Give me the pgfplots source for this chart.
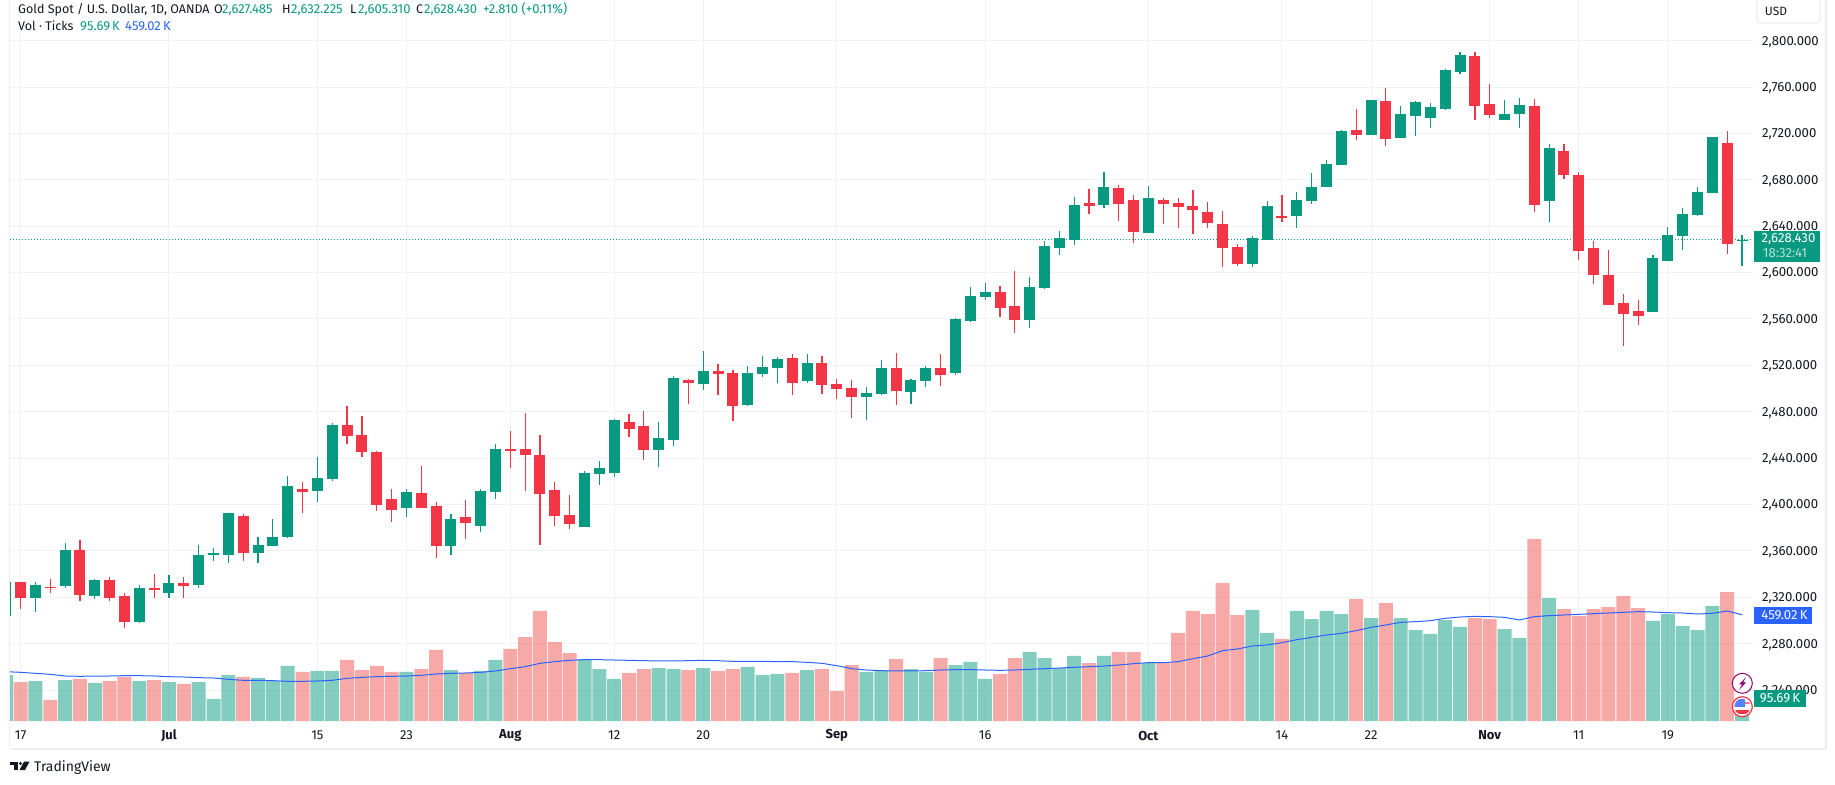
\documentclass[border=0pt]{standalone}
\usepackage{pgfplots}
\usepackage{pgfplotstable}
\usepackage{fontspec}
\pgfplotsset{compat=1.18}
\setmainfont{Fira Sans}
\definecolor{up}{HTML}{089981}
\definecolor{dn}{HTML}{F23645}
\definecolor{volup}{HTML}{089981}
\definecolor{voldn}{HTML}{EF5350}
\definecolor{ink}{HTML}{131722}
\definecolor{gridc}{HTML}{F2F2F5}
\definecolor{framec}{HTML}{EDEDF3}
\definecolor{mablue}{HTML}{2962FF}
\pgfplotstableread{
x o h l c
-1 2303.7 2332.8 2303.7 2332.8
1 2319.8 2333.6 2306.9 2330.2
3 2329.3 2366.4 2328.4 2360.4
5 2320.7 2335.4 2318.1 2334.5
8 2298.3 2331.0 2297.4 2328.4
10 2323.3 2338.8 2319.0 2331.9
12 2330.2 2365.5 2327.6 2356.9
13 2356.6 2362.9 2350.9 2357.8
14 2356.9 2393.1 2349.2 2392.3
16 2358.6 2372.4 2350.0 2364.7
17 2363.8 2387.1 2363.8 2371.6
18 2371.6 2425.0 2371.0 2415.6
20 2411.3 2440.6 2401.8 2422.5
21 2421.6 2469.9 2420.7 2469.0
26 2397.4 2413.0 2388.8 2410.4
29 2363.8 2391.4 2356.1 2387.1
31 2381.9 2413.8 2376.7 2411.3
32 2410.4 2451.8 2404.4 2448.3
38 2381.0 2428.5 2381.0 2427.6
39 2426.5 2437.7 2417.0 2431.7
40 2427.4 2473.4 2423.9 2472.5
43 2447.2 2471.1 2432.5 2457.0
44 2455.8 2510.8 2450.6 2509.0
46 2503.9 2532.3 2498.7 2515.1
49 2485.8 2519.4 2484.9 2513.4
50 2512.5 2528.0 2509.9 2518.5
51 2517.7 2527.1 2504.7 2525.4
53 2506.5 2529.7 2504.7 2522.0
57 2492.7 2501.3 2472.8 2496.1
58 2495.2 2524.6 2494.4 2517.7
60 2497.0 2508.2 2486.6 2507.3
61 2506.5 2519.4 2501.3 2517.7
63 2513.4 2560.8 2511.6 2559.9
64 2558.2 2587.5 2557.3 2579.8
65 2578.9 2591.0 2576.3 2583.2
68 2559.0 2596.2 2552.2 2587.5
69 2586.7 2627.2 2585.8 2622.9
70 2621.2 2635.8 2615.1 2629.8
71 2628.0 2665.2 2623.7 2658.2
73 2658.2 2686.7 2655.7 2673.8
76 2634.1 2674.6 2634.1 2664.3
83 2607.4 2631.6 2604.8 2629.8
84 2628.1 2661.7 2628.0 2657.4
86 2648.8 2669.5 2638.4 2662.6
87 2661.7 2685.9 2659.2 2673.8
88 2673.8 2697.1 2673.8 2693.7
89 2692.8 2723.0 2692.8 2722.1
91 2718.7 2748.9 2718.7 2748.9
93 2716.1 2743.7 2716.1 2736.8
94 2735.0 2748.0 2717.8 2747.1
95 2733.3 2746.3 2724.7 2742.8
96 2741.1 2775.6 2740.2 2774.7
97 2773.0 2790.2 2771.3 2787.7
100 2731.6 2748.9 2731.6 2736.8
101 2736.8 2750.6 2724.7 2744.5
103 2661.7 2710.9 2643.6 2707.4
110 2566.0 2615.2 2566.0 2612.6
111 2610.0 2639.3 2610.0 2632.4
112 2631.6 2655.7 2619.5 2650.5
113 2649.7 2673.8 2648.8 2669.5
114 2668.6 2716.9 2668.6 2716.9
116 2627.485 2632.225 2605.31 2628.43
}\candlesup
\pgfplotstableread{
x o h l c
0 2332.8 2332.8 2310.3 2319.0
2 2329.2 2335.4 2324.1 2328.0
4 2360.4 2369.0 2317.2 2321.6
6 2334.5 2337.9 2316.4 2319.0
7 2320.7 2324.1 2293.9 2298.3
9 2327.6 2340.5 2319.8 2326.5
11 2331.9 2337.1 2319.8 2329.3
15 2389.7 2391.4 2351.7 2358.6
19 2413.8 2419.0 2392.3 2410.4
22 2468.2 2484.6 2451.8 2458.7
23 2459.6 2476.0 2440.6 2444.9
24 2444.9 2445.8 2394.0 2400.0
25 2404.4 2413.0 2384.5 2395.7
27 2409.5 2432.8 2396.6 2396.6
28 2398.3 2401.8 2353.5 2363.8
30 2388.8 2403.5 2369.9 2383.7
33 2448.3 2463.0 2431.1 2445.8
34 2447.5 2478.5 2411.3 2442.3
35 2442.3 2459.6 2364.7 2409.5
36 2412.1 2419.0 2381.9 2389.7
37 2390.6 2407.8 2379.3 2382.8
41 2471.1 2478.0 2458.4 2465.0
42 2467.6 2480.6 2438.6 2447.2
45 2507.3 2508.2 2486.6 2504.7
47 2515.1 2521.1 2494.4 2512.5
48 2513.4 2515.9 2472.0 2484.9
52 2526.3 2529.7 2494.4 2504.7
54 2522.0 2528.0 2495.2 2503.0
55 2503.9 2508.2 2490.9 2499.5
56 2500.4 2507.3 2474.5 2492.7
59 2517.7 2530.6 2485.8 2497.8
62 2517.7 2529.7 2502.1 2511.6
66 2583.2 2588.4 2561.7 2569.4
67 2571.2 2601.3 2547.9 2559.0
72 2660.0 2672.0 2650.5 2657.4
74 2672.9 2675.5 2644.5 2659.1
75 2662.6 2666.9 2625.5 2635.0
77 2662.6 2664.3 2641.9 2659.1
78 2660.0 2664.3 2638.4 2656.5
79 2657.4 2671.2 2633.2 2653.9
80 2652.2 2660.8 2638.4 2642.7
81 2641.9 2653.1 2604.8 2621.2
82 2622.0 2624.7 2605.7 2607.4
85 2648.8 2666.9 2643.6 2647.6
90 2723.0 2741.1 2714.4 2718.7
92 2748.0 2759.2 2709.2 2715.2
98 2786.8 2790.2 2731.6 2743.7
99 2745.4 2762.7 2733.3 2735.9
102 2743.7 2749.7 2652.2 2658.3
104 2704.9 2710.9 2680.7 2684.2
105 2684.2 2686.7 2610.8 2618.6
106 2621.2 2627.2 2590.2 2597.9
107 2597.9 2619.5 2572.0 2572.0
108 2573.8 2581.5 2536.7 2564.3
109 2566.9 2576.4 2554.8 2562.6
115 2711.8 2722.1 2616.0 2624.7
}\candlesdn
\pgfplotstableread{
x v
-1 198.6
1 172.7
3 177.0
5 164.1
8 172.7
10 168.4
12 168.4
13 95.0
14 198.6
16 185.7
17 172.7
18 237.5
20 215.9
21 215.9
26 211.6
29 220.2
31 215.9
32 263.4
38 267.7
39 224.5
40 181.4
43 228.8
44 224.5
46 228.8
49 233.2
50 198.6
51 202.9
53 220.2
57 211.6
58 220.2
60 224.5
61 211.6
63 241.8
64 254.8
65 181.4
68 297.9
69 272.0
70 228.8
71 280.7
73 280.7
76 250.4
83 479.3
84 380.0
86 475.0
87 440.4
88 475.0
89 462.0
91 444.7
93 444.7
94 392.9
95 375.7
96 436.1
97 405.9
100 397.2
101 358.4
103 531.1
110 431.8
111 462.0
112 410.2
113 392.9
114 496.6
116 95.69
}\volumeup
\pgfplotstableread{
x v
0 168.4
2 90.7
4 181.4
6 172.7
7 190.0
9 177.0
11 159.8
15 190.0
19 211.6
22 263.4
23 220.2
24 237.5
25 211.6
27 224.5
28 306.6
30 207.3
33 310.9
34 362.7
35 475.0
36 341.1
37 293.6
41 207.3
42 224.5
45 220.2
47 215.9
48 224.5
52 207.3
54 224.5
55 129.5
56 241.8
59 267.7
62 272.0
66 202.9
67 272.0
72 250.4
74 297.9
75 297.9
77 250.4
78 380.0
79 475.0
80 462.0
81 595.9
82 457.7
85 354.1
90 526.8
92 509.5
98 444.7
99 440.4
102 785.9
104 483.6
105 453.4
106 483.6
107 492.2
108 539.7
109 487.9
115 557.0
}\volumedn
\pgfplotstableread{
x v
-1 213.0
0 210.1
1 205.8
2 201.5
3 194.3
4 192.9
5 194.3
6 194.3
7 195.7
8 195.7
9 194.3
10 191.4
11 190.0
12 187.1
13 185.7
14 179.9
15 175.6
16 175.6
17 174.2
18 171.3
19 171.3
20 172.7
21 175.6
22 184.2
23 188.5
24 191.4
25 192.9
26 194.3
27 197.2
28 202.9
29 205.8
30 207.3
31 210.1
32 215.9
33 226.0
34 234.6
35 249.0
36 256.2
37 262.0
38 264.8
39 264.8
40 263.4
41 262.0
42 260.5
43 259.1
44 259.1
45 260.5
46 262.0
47 260.5
48 257.6
49 257.6
50 257.6
51 256.2
52 256.2
53 253.3
54 249.0
55 238.9
56 226.0
57 220.2
58 217.3
59 215.9
60 215.9
61 217.3
62 220.2
63 221.7
64 221.7
65 220.2
66 218.8
67 220.2
68 223.1
69 226.0
70 228.8
71 231.7
72 234.6
73 237.5
74 241.8
75 247.6
76 251.9
77 251.9
78 256.2
79 269.1
80 280.7
81 303.7
82 310.9
83 323.8
84 328.2
85 338.2
86 351.2
87 361.3
88 371.3
89 378.5
90 390.0
91 404.4
92 414.5
93 426.0
94 428.9
95 433.2
96 443.3
97 449.1
98 451.9
99 450.5
100 447.6
101 436.1
102 450.5
103 454.8
104 457.7
105 460.6
106 463.5
107 466.3
108 469.2
109 472.1
110 470.6
111 467.8
112 466.3
113 462.0
114 464.9
115 475.0
116 459.02
}\volumema
\newcommand{\fnt}[1]{\fontsize{#1}{#1}\selectfont}
\pgfplotsset{
  chartframe/.style={
    at={(10pt,63pt)}, anchor=south west, scale only axis,
    width=1743pt, height=721pt, xmin=-0.714, xmax=116.74, clip=true},
  body/.style={draw=none, mark=none, forget plot,
    error bars/.cd, y dir=both, y explicit, error mark=none,
    error bar style={draw=#1, line width=11pt, line cap=butt}},
  wick/.style={draw=none, mark=none, forget plot,
    error bars/.cd, y dir=both, y explicit, error mark=none,
    error bar style={draw=#1, line width=1.2pt, line cap=butt}},
}
\begin{document}
\begin{tikzpicture}[x=1pt,y=1pt]
\path[use as bounding box] (0,0) rectangle (1835,784);
\begin{axis}[chartframe,
  ymin=2213.3, ymax=2835.1,
  axis line style={draw=none}, tick style={draw=none},
  major tick length=0pt,
  grid=major, major grid style={draw=gridc, line width=1pt},
  ytick={2240,2280,...,2800}, ticklabel pos=right,
  xtick={0,10,20,26,33,40,46,55,65,76,85,91,99,105,111},
  xticklabel pos=lower,
  xticklabels={17,\textbf{Jul},15,23,\textbf{Aug},12,20,\textbf{Sep},16,\textbf{Oct},14,22,\textbf{Nov},11,19},
  xticklabel style={font=\fnt{13}, text=ink, anchor=center, yshift=-14.5pt, inner sep=0pt},
  yticklabel style={font=\fnt{13.2}, text=ink, anchor=west, xshift=9pt, yshift=-1pt, inner sep=0pt,
    /pgf/number format/.cd, assume math mode=true, fixed, fixed zerofill, precision=3, 1000 sep={,}},
  scaled y ticks=false,
]
\addplot[draw=up, line width=1pt, dash pattern=on 1.2pt off 1.8pt, forget plot] coordinates {(-0.714,2628.43) (116.74,2628.43)};
\addplot[wick=up] table[x=x, y expr=(\thisrow{h}+\thisrow{l})/2, y error expr=(\thisrow{h}-\thisrow{l})/2] {\candlesup};
\addplot[wick=dn] table[x=x, y expr=(\thisrow{h}+\thisrow{l})/2, y error expr=(\thisrow{h}-\thisrow{l})/2] {\candlesdn};
\addplot[body=up] table[x=x, y expr=(\thisrow{o}+\thisrow{c})/2, y error expr=(\thisrow{c}-\thisrow{o})/2] {\candlesup};
\addplot[body=dn] table[x=x, y expr=(\thisrow{o}+\thisrow{c})/2, y error expr=(\thisrow{o}-\thisrow{c})/2] {\candlesdn};
\end{axis}
\begin{axis}[chartframe, hide axis, ymin=0, ymax=3113.3]
\addplot[ybar, bar shift=0pt, bar width=14pt, fill=volup, fill opacity=.5, draw=none] table[x=x,y=v] {\volumeup};
\addplot[ybar, bar shift=0pt, bar width=14pt, fill=voldn, fill opacity=.5, draw=none] table[x=x,y=v] {\volumedn};
\addplot[draw=mablue, line width=1pt, mark=none] table[x=x,y=v] {\volumema};
\end{axis}
% frame
\draw[framec, line width=1.5pt] (9.5,784) -- (9.5,35);
\draw[framec, line width=1.5pt] (9.5,35) -- (1826,35) -- (1826,784);
% header
\begin{scope}[every node/.style={anchor=base west, inner sep=0pt, font=\fnt{12.5}}]
\node[text=ink] at (18,770) {Gold Spot / U.S. Dollar, 1D, OANDA};
\node[text=ink] at (214,770) {O};
\node[text=up] at (222,770) {\fnt{13}2,627.485};
\node[text=ink] at (282,770) {H};
\node[text=up] at (291,770) {\fnt{13}2,632.225};
\node[text=ink] at (350,770) {L};
\node[text=up] at (358,770) {\fnt{13}2,605.310};
\node[text=ink] at (416,770) {C};
\node[text=up] at (424,770) {\fnt{13}2,628.430};
\node[text=up] at (483,770) {\fnt{13}+2.810 (+0.11\%)};
\node[text=ink] at (18,753) {Vol · Ticks};
\node[text=up] at (80,753) {\fnt{13}95.69\,K};
\node[text=mablue] at (125,753) {\fnt{13}459.02\,K};
\end{scope}
% USD box
\draw[draw=framec, fill=white, line width=1.2pt, rounded corners=3pt] (1757,790) rectangle (1820,761);
\node[anchor=center, inner sep=0pt, text=ink, font=\fnt{12}] at (1776,772.5) {USD};
% price box
\fill[up] (1754,553) rectangle (1820,522);
\node[anchor=center, inner sep=0pt, text=white, font=\fnt{13.2}] at (1788.5,545) {2,628.430};
\node[anchor=center, inner sep=0pt, text=white!70!up, font=\fnt{13.2}] at (1785,530.5) {18:32:41};
% volume labels
\fill[mablue] (1754,177) rectangle (1811.5,160);
\node[anchor=center, inner sep=0pt, text=white, font=\fnt{13.2}] at (1784.5,168.5) {459.02\,K};
% icons
\draw[draw=violet!80!purple, line width=1pt, fill=white] (1742.3,100.7) circle (10);
\fill[violet!80!purple] (1746,107) -- (1739,99.5) -- (1742,99.5) -- (1739,94) -- (1746,101.5) -- (1743,101.5) -- cycle;
\draw[draw=dn, line width=1.2pt, fill=white] (1742.3,77.3) circle (10);
\begin{scope}
\clip (1742.3,77.3) circle (8);
\fill[dn] (1734,70) rectangle (1751,74);
\fill[mablue!80] (1734,77) rectangle (1745,85.5);
\fill[dn!70] (1745,79.5) rectangle (1751,82);
\end{scope}
\fill[up] (1754,94) rectangle (1806,77);
\node[anchor=center, inner sep=0pt, text=white, font=\fnt{13.2}] at (1780,85.5) {95.69\,K};
% logo
\fill[ink] (10,22.3) rectangle (17.5,19.5);
\fill[ink] (13.5,22.3) rectangle (17.5,14);
\fill[ink] (20.5,20.5) circle (1.7);
\fill[ink] (24,22.3) -- (29.5,22.3) -- (25,14) -- (19.5,14) -- cycle;
\node[anchor=base west, inner sep=0pt, text=ink, font=\fnt{14}] at (34,12.5) {TradingView};
\end{tikzpicture}
\end{document}
